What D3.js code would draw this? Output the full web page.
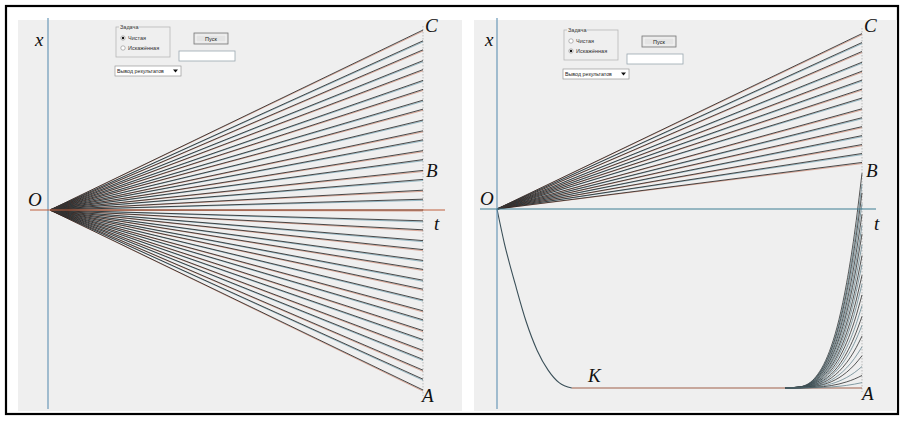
<!DOCTYPE html>
<html>
<head>
<meta charset="utf-8">
<script src="https://cdn.jsdelivr.net/npm/d3@7"></script>
<style>
  html, body { margin: 0; padding: 0; background: #fff; }
  svg { display: block; }
</style>
</head>
<body>
<svg id="chart" width="904" height="421"></svg>
<script>
// Final values x(T) of the rays in the clean ("Чистая") run
const cleanEnds = [1.00, 0.94, 0.89, 0.83, 0.78, 0.72, 0.67, 0.61, 0.56, 0.50, 0.44, 0.39,
  0.33, 0.28, 0.22, 0.17, 0.11, 0.06, 0.00, -0.06, -0.11, -0.17, -0.22, -0.28, -0.33,
  -0.39, -0.44, -0.50, -0.56, -0.61, -0.67, -0.72, -0.78, -0.83, -0.89, -0.94, -1.00];

// Distorted ("Искажённая") run: rays that stay above the axis
const distortedEnds = [0.98, 0.93, 0.88, 0.82, 0.77, 0.72, 0.67, 0.62, 0.56, 0.51, 0.46,
  0.41, 0.36, 0.31, 0.26];

// Descent from O to the lower bound K: [t, x]
const descentT = [0, 0.02, 0.05, 0.08, 0.11, 0.14, 0.17, 0.205];
const descentX = [0, -0.19, -0.42, -0.63, -0.79, -0.90, -0.97, -1.00];

// Late rise from the bound: share of time since the start vs. share of the final climb
const riseStart = 0.79;
const riseS = [0, 0.2, 0.4, 0.5, 0.6, 0.7, 0.8, 0.9, 1.0];
const riseF = [0, 0.006, 0.053, 0.109, 0.195, 0.319, 0.49, 0.714, 1.0];
const riseEnds = [0.20, 0.14, 0.09, 0.03, -0.03, -0.09, -0.14, -0.20, -0.26, -0.31, -0.37,
  -0.42, -0.48, -0.54, -0.60, -0.65, -0.71, -0.77, -0.82, -0.88, -0.93, -0.97];

// Point labels
const pointLabels = ["O", "C", "B", "A"];
const axisLabels = ["x", "t"];

const svg = d3.select("#chart");
const serif = "'Liberation Serif', 'DejaVu Serif', serif";
const ui = "'Liberation Sans', Arial, sans-serif";

// outer frame and the two panels
svg.append("rect").attr("x", 6).attr("y", 6).attr("width", 892).attr("height", 408)
  .attr("fill", "#fff").attr("stroke", "#000").attr("stroke-width", 2.2);
svg.append("rect").attr("x", 18).attr("y", 20).attr("width", 444).attr("height", 391).attr("fill", "#efefef");
svg.append("rect").attr("x", 474).attr("y", 20).attr("width", 423).attr("height", 391).attr("fill", "#efefef");

const RED = "#c9765c", TEAL = "#5b93a6", INK = "#111";

function rays(g, t, x, ends) {
  ends.forEach((e, i) => {
    const col = i % 2 === 0 ? RED : TEAL;
    g.append("line").attr("x1", t(0)).attr("y1", x(0)).attr("x2", t(1)).attr("y2", x(e) + 1.1)
      .attr("stroke", col).attr("stroke-width", 0.8).attr("opacity", 0.75);
    g.append("line").attr("x1", t(0)).attr("y1", x(0)).attr("x2", t(1)).attr("y2", x(e))
      .attr("stroke", INK).attr("stroke-width", 0.75);
  });
}

function controls(g, x0, y0, cleanOn) {
  // group box "Задача"
  g.append("rect").attr("x", x0).attr("y", y0).attr("width", 54).attr("height", 30)
    .attr("fill", "none").attr("stroke", "#b8b8b8").attr("stroke-width", 0.8);
  g.append("rect").attr("x", x0 + 3).attr("y", y0 - 3).attr("width", 20).attr("height", 6).attr("fill", "#efefef");
  g.append("text").attr("x", x0 + 4).attr("y", y0 + 2).text("Задача")
    .attr("font-family", ui).attr("font-size", 5.5).attr("fill", "#333");
  [["Чистая", cleanOn], ["Искажённая", !cleanOn]].forEach(([lab, on], i) => {
    const cy = y0 + 11 + i * 10;
    g.append("circle").attr("cx", x0 + 7).attr("cy", cy).attr("r", 2.2)
      .attr("fill", "#fff").attr("stroke", "#888").attr("stroke-width", 0.6);
    if (on) g.append("circle").attr("cx", x0 + 7).attr("cy", cy).attr("r", 1.2).attr("fill", "#111");
    g.append("text").attr("x", x0 + 12).attr("y", cy + 2).text(lab)
      .attr("font-family", ui).attr("font-size", 5.5).attr("fill", "#333");
  });
  // button "Пуск"
  g.append("rect").attr("x", x0 + 78).attr("y", y0 + 6).attr("width", 34).attr("height", 11)
    .attr("fill", "#e4e4e4").attr("stroke", "#777").attr("stroke-width", 0.8);
  g.append("rect").attr("x", x0 + 80).attr("y", y0 + 8).attr("width", 30).attr("height", 7)
    .attr("fill", "none").attr("stroke", "#fff").attr("stroke-width", 0.6);
  g.append("text").attr("x", x0 + 95).attr("y", y0 + 13.5).attr("text-anchor", "middle").text("Пуск")
    .attr("font-family", ui).attr("font-size", 5.5).attr("fill", "#222");
  // text field
  g.append("rect").attr("x", x0 + 63).attr("y", y0 + 24).attr("width", 56).attr("height", 10)
    .attr("fill", "#fff").attr("stroke", "#9aa7b0").attr("stroke-width", 0.8);
  // drop-down "Вывод результатов"
  g.append("rect").attr("x", x0 - 1).attr("y", y0 + 39).attr("width", 66).attr("height", 10)
    .attr("fill", "#fff").attr("stroke", "#999").attr("stroke-width", 0.7);
  g.append("text").attr("x", x0 + 1).attr("y", y0 + 46).text("Вывод результатов")
    .attr("font-family", ui).attr("font-size", 5.3).attr("fill", "#222");
  g.append("path").attr("d", `M${x0 + 57},${y0 + 42.5} l5,0 l-2.5,3 z`).attr("fill", "#111");
}

function labels(g, items) {
  items.forEach(([txt, x, y]) => {
    g.append("text").attr("x", x).attr("y", y).text(txt)
      .attr("font-family", serif).attr("font-style", "italic").attr("font-size", 19).attr("fill", "#111");
  });
}

// ---------- left panel: clean run ----------
{
  const g = svg.append("g");
  const t = d3.scaleLinear().domain([0, 1]).range([50, 423]);
  const x = d3.scaleLinear().domain([-1, 1]).range([390, 30]);

  g.append("line").attr("x1", t(1)).attr("x2", t(1)).attr("y1", 26).attr("y2", 396)
    .attr("stroke", "#bbb").attr("stroke-width", 1).attr("stroke-dasharray", "1.5,1.5");
  rays(g, t, x, cleanEnds);
  g.append("line").attr("x1", 48).attr("x2", 48).attr("y1", 18).attr("y2", 409)
    .attr("stroke", "#6a98b8").attr("stroke-width", 1.2);
  g.append("line").attr("x1", 30).attr("x2", 445).attr("y1", x(0)).attr("y2", x(0))
    .attr("stroke", "#c0603e").attr("stroke-width", 1.2);
  controls(g, 116, 27, true);
  labels(g, [[axisLabels[0], 35, 46], [pointLabels[0], 28, 206], [pointLabels[1], 425, 32],
    [pointLabels[2], 426, 177], [axisLabels[1], 434, 230], [pointLabels[3], 422, 402]]);
}

// ---------- right panel: distorted run ----------
{
  const g = svg.append("g");
  const t = d3.scaleLinear().domain([0, 1]).range([497, 862]);
  const x = d3.scaleLinear().domain([-1, 1]).range([388, 30]);

  g.append("line").attr("x1", t(1)).attr("x2", t(1)).attr("y1", 28).attr("y2", 392)
    .attr("stroke", "#bbb").attr("stroke-width", 1).attr("stroke-dasharray", "1.5,1.5");
  rays(g, t, x, distortedEnds);

  // descent to the lower bound
  const line = d3.line().curve(d3.curveMonotoneX);
  g.append("path").attr("d", line(descentT.map((d, i) => [t(d), x(descentX[i])])))
    .attr("fill", "none").attr("stroke", "#3a4f58").attr("stroke-width", 1.1);
  // the bound K
  g.append("line").attr("x1", t(descentT[descentT.length - 1])).attr("x2", t(1))
    .attr("y1", x(-1)).attr("y2", x(-1)).attr("stroke", "#a0604a").attr("stroke-width", 1.1);

  // late climbs off the bound
  riseEnds.forEach((e, i) => {
    const pts = riseS.map((s, k) => [t(riseStart + s * (1 - riseStart)), x(-1 + (e + 1) * riseF[k])]);
    g.append("path").attr("d", line(pts)).attr("fill", "none")
      .attr("stroke", i % 2 === 0 ? "#222" : "#5f7f8a").attr("stroke-width", 0.75);
  });

  g.append("line").attr("x1", 497).attr("x2", 497).attr("y1", 18).attr("y2", 409)
    .attr("stroke", "#6a98b8").attr("stroke-width", 1.2);
  g.append("line").attr("x1", 480).attr("x2", 876).attr("y1", x(0)).attr("y2", x(0))
    .attr("stroke", "#3f7e94").attr("stroke-width", 1.2);
  controls(g, 564, 30, false);
  labels(g, [[axisLabels[0], 485, 46], [pointLabels[0], 480, 205], [pointLabels[1], 864, 32],
    [pointLabels[2], 866, 177], [axisLabels[1], 874, 230], [pointLabels[3], 862, 400], ["K", 588, 382]]);
}
</script>
</body>
</html>
